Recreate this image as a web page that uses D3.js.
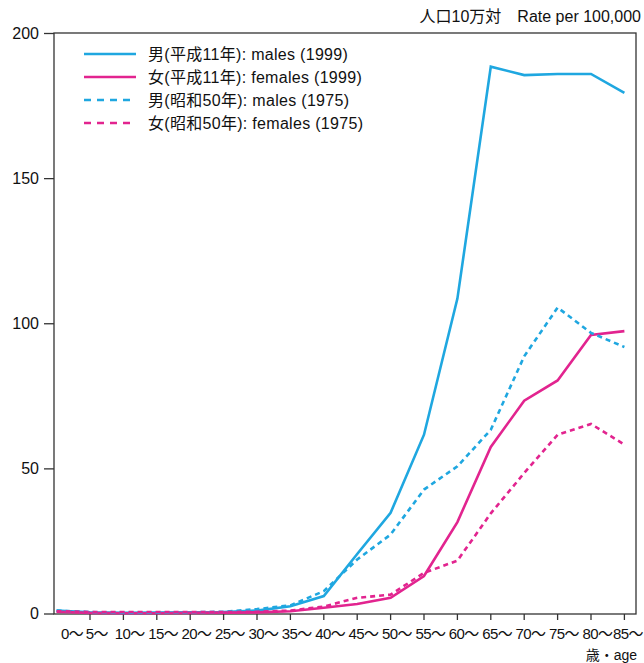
<!DOCTYPE html>
<html>
<head>
<meta charset="utf-8">
<script src="https://cdn.jsdelivr.net/npm/d3@7"></script>
<style>
  body { margin: 0; background: #fff; }
  text { font-family: "Liberation Sans", "Noto Sans CJK JP", sans-serif; fill: #111; }
</style>
</head>
<body>
<script>
const width = 644;
const height = 663;

const margin = { left: 54, right: 8, top: 33, bottom: 49 };

// age groups
const ages = ["0", "5", "10", "15", "20", "25", "30", "35", "40", "45",
              "50", "55", "60", "65", "70", "75", "80", "85"];

const males1999 =   [1.0, 0.4, 0.2, 0.3, 0.4, 0.5, 1.0, 2.5, 6.0, 20.5, 34.7, 61.6, 108.5, 188.4, 185.5, 185.9, 185.9, 179.4];
const females1999 = [0.6, 0.2, 0.1, 0.1, 0.2, 0.3, 0.4, 0.8, 2.0, 3.3, 5.4, 12.9, 31.5, 57.4, 73.3, 80.3, 96.0, 97.3];
const males1975 =   [1.0, 0.5, 0.3, 0.3, 0.4, 0.6, 1.5, 2.8, 7.7, 18.6, 27.2, 42.7, 50.7, 63.3, 88.6, 105.4, 96.7, 91.8];
const females1975 = [0.8, 0.5, 0.5, 0.5, 0.5, 0.5, 0.6, 1.0, 2.4, 5.4, 6.5, 14.0, 18.2, 34.5, 48.4, 61.6, 65.3, 58.2];

const yTicks = [0, 50, 100, 150, 200];

const blue = "#1fa7e0";
const pink = "#e2248f";

const series = [
    { name: "男(平成11年): males (1999)", values: males1999, color: blue, dashed: false },
    { name: "女(平成11年): females (1999)", values: females1999, color: pink, dashed: false },
    { name: "男(昭和50年): males (1975)", values: males1975, color: blue, dashed: true },
    { name: "女(昭和50年): females (1975)", values: females1975, color: pink, dashed: true }
];

let svg = d3.select("body").append("svg")
    .attr("width", width)
    .attr("height", height);

let xScale = d3.scalePoint()
    .domain(ages)
    .range([56.6, 624.4]);

let yScale = d3.scaleLinear()
    .domain([0, 200])
    .range([height - margin.bottom - 0.5, margin.top]);

const plotBottom = height - margin.bottom;
const plotRight = width - margin.right;

// frame
svg.append("rect")
    .attr("x", margin.left)
    .attr("y", margin.top)
    .attr("width", plotRight - margin.left)
    .attr("height", plotBottom - margin.top)
    .attr("fill", "none")
    .attr("stroke", "#333")
    .attr("stroke-width", 1.3);

// y axis
let yAxis = svg.append("g")
    .attr("transform", "translate(" + margin.left + ",0)")
    .call(d3.axisLeft(yScale).tickValues(yTicks).tickSize(10).tickPadding(5));
yAxis.select(".domain").remove();
yAxis.selectAll("line").attr("stroke", "#333").attr("stroke-width", 1.3);
yAxis.selectAll("text").style("font-size", "16px").attr("fill", "#111");

// x ticks (none at the first point, it sits on the axis)
let xAxis = svg.append("g")
    .attr("transform", "translate(0," + plotBottom + ")");
xAxis.selectAll("line")
    .data(ages.slice(1))
    .enter().append("line")
    .attr("x1", d => xScale(d))
    .attr("x2", d => xScale(d))
    .attr("y1", 0)
    .attr("y2", 6)
    .attr("stroke", "#333")
    .attr("stroke-width", 1.3);

const last = ages.length - 1;
xAxis.selectAll("text")
    .data(ages)
    .enter().append("text")
    .attr("x", (d, i) => i === 0 ? 61 : (i === last ? width - 1 : xScale(d) - d.length * 4.3))
    .attr("y", 25)
    .attr("text-anchor", (d, i) => i === last ? "end" : "start")
    .style("font-size", "15px")
    .style("letter-spacing", "-0.6px")
    .text(d => d + "～");

svg.append("text")
    .attr("x", 637)
    .attr("y", 660)
    .attr("text-anchor", "end")
    .style("font-size", "14px")
    .text("歳・age");

svg.append("text")
    .attr("x", 641)
    .attr("y", 22)
    .attr("text-anchor", "end")
    .style("font-size", "16px")
    .text("人口10万対　Rate per 100,000");

// lines
let line = d3.line()
    .x((d, i) => xScale(ages[i]))
    .y(d => yScale(d));

svg.selectAll(".series")
    .data(series)
    .enter().append("path")
    .attr("class", "series")
    .attr("d", d => line(d.values))
    .attr("fill", "none")
    .attr("stroke", d => d.color)
    .attr("stroke-width", 2.6)
    .attr("stroke-dasharray", d => d.dashed ? "5,4" : null)
    .attr("stroke-linejoin", "miter");

// legend
let legend = svg.selectAll(".legend")
    .data(series)
    .enter().append("g")
    .attr("class", "legend")
    .attr("transform", (d, i) => "translate(84," + (54 + i * 23) + ")");

legend.append("line")
    .attr("x1", 0)
    .attr("x2", 52)
    .attr("stroke", d => d.color)
    .attr("stroke-width", 2.6)
    .attr("stroke-dasharray", d => d.dashed ? "7,6" : null);

legend.append("text")
    .attr("x", 64)
    .attr("y", 6)
    .style("font-size", "16px")
    .style("letter-spacing", "0.3px")
    .text(d => d.name);
</script>
</body>
</html>
